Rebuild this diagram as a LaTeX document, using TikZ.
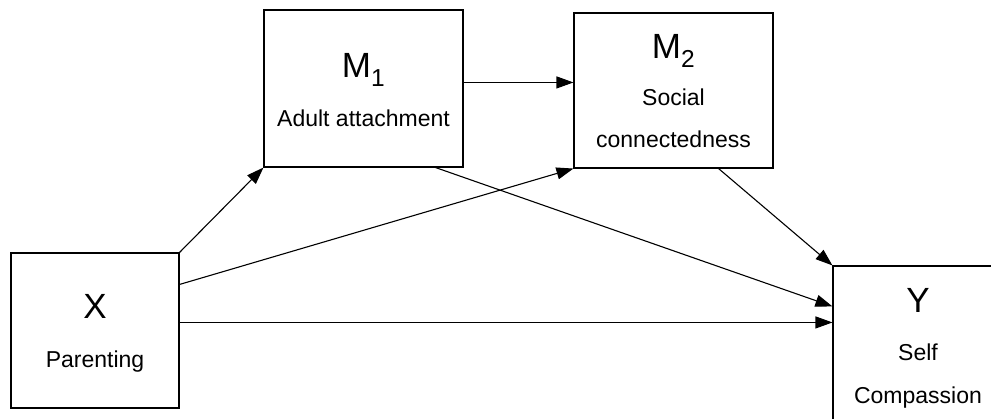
\documentclass[tikz,border=0pt]{standalone}
\usepackage{fontspec}
\setmainfont{Liberation Sans}
\usetikzlibrary{arrows.meta}
\begin{document}
\begin{tikzpicture}[x=1pt,y=-1pt,
  box/.style={draw, line width=1.1pt, inner sep=0pt},
  big/.style={font=\fontsize{35}{37}\selectfont, anchor=base, inner sep=0pt},
  small/.style={font=\fontsize{23}{25}\selectfont, anchor=base, inner sep=0pt},
  link/.style={line width=1.1pt, -{Triangle[length=17pt,width=12pt]}}]
\useasboundingbox (0,0) rectangle (991,419);
\clip (0,0) rectangle (991,419);

% variable boxes
\node[box, minimum width=168pt, minimum height=155pt] (X) at (95,330.5) {};
\node[box, minimum width=199pt, minimum height=157pt] (M1) at (363.5,88.5) {};
\node[box, minimum width=199pt, minimum height=155pt] (M2) at (673.5,90.5) {};
\node[box, minimum width=170pt, minimum height=170pt] (Y) at (918,351) {};

% labels
\node[big]   (xl)  at (95,319)    {X};
\node[small] (xs)  at (95,368)    {Parenting};
\node[big]   (m1l) at (363.5,78)  {M\textsubscript{1}};
\node[small] (m1s) at (363.5,127) {Adult attachment};
\node[big]   (m2l) at (673.5,59)  {M\textsubscript{2}};
\node[small] (m2s) at (673.5,106) {Social};
\node[small] (m2t) at (673.5,148) {connectedness};
\node[big]   (yl)  at (918,313)   {Y};
\node[small] (ys)  at (918,361)   {Self};
\node[small] (yt)  at (918,404)   {Compassion};

% paths
\draw[link] (X.north east) -- (M1.south west);
\draw[link] ([yshift=-32pt]X.north east) -- (M2.south west);
\draw[link] ([yshift=-70pt]X.north east) -- ([yshift=-57pt]Y.north west);
\draw[link] ([yshift=-73pt]M1.north east) -- ([yshift=-70pt]M2.north west);
\draw[link] ([xshift=-28pt]M1.south east) -- ([yshift=-41pt]Y.north west);
\draw[link] ([xshift=-55pt]M2.south east) -- (Y.north west);
\end{tikzpicture}
\end{document}
